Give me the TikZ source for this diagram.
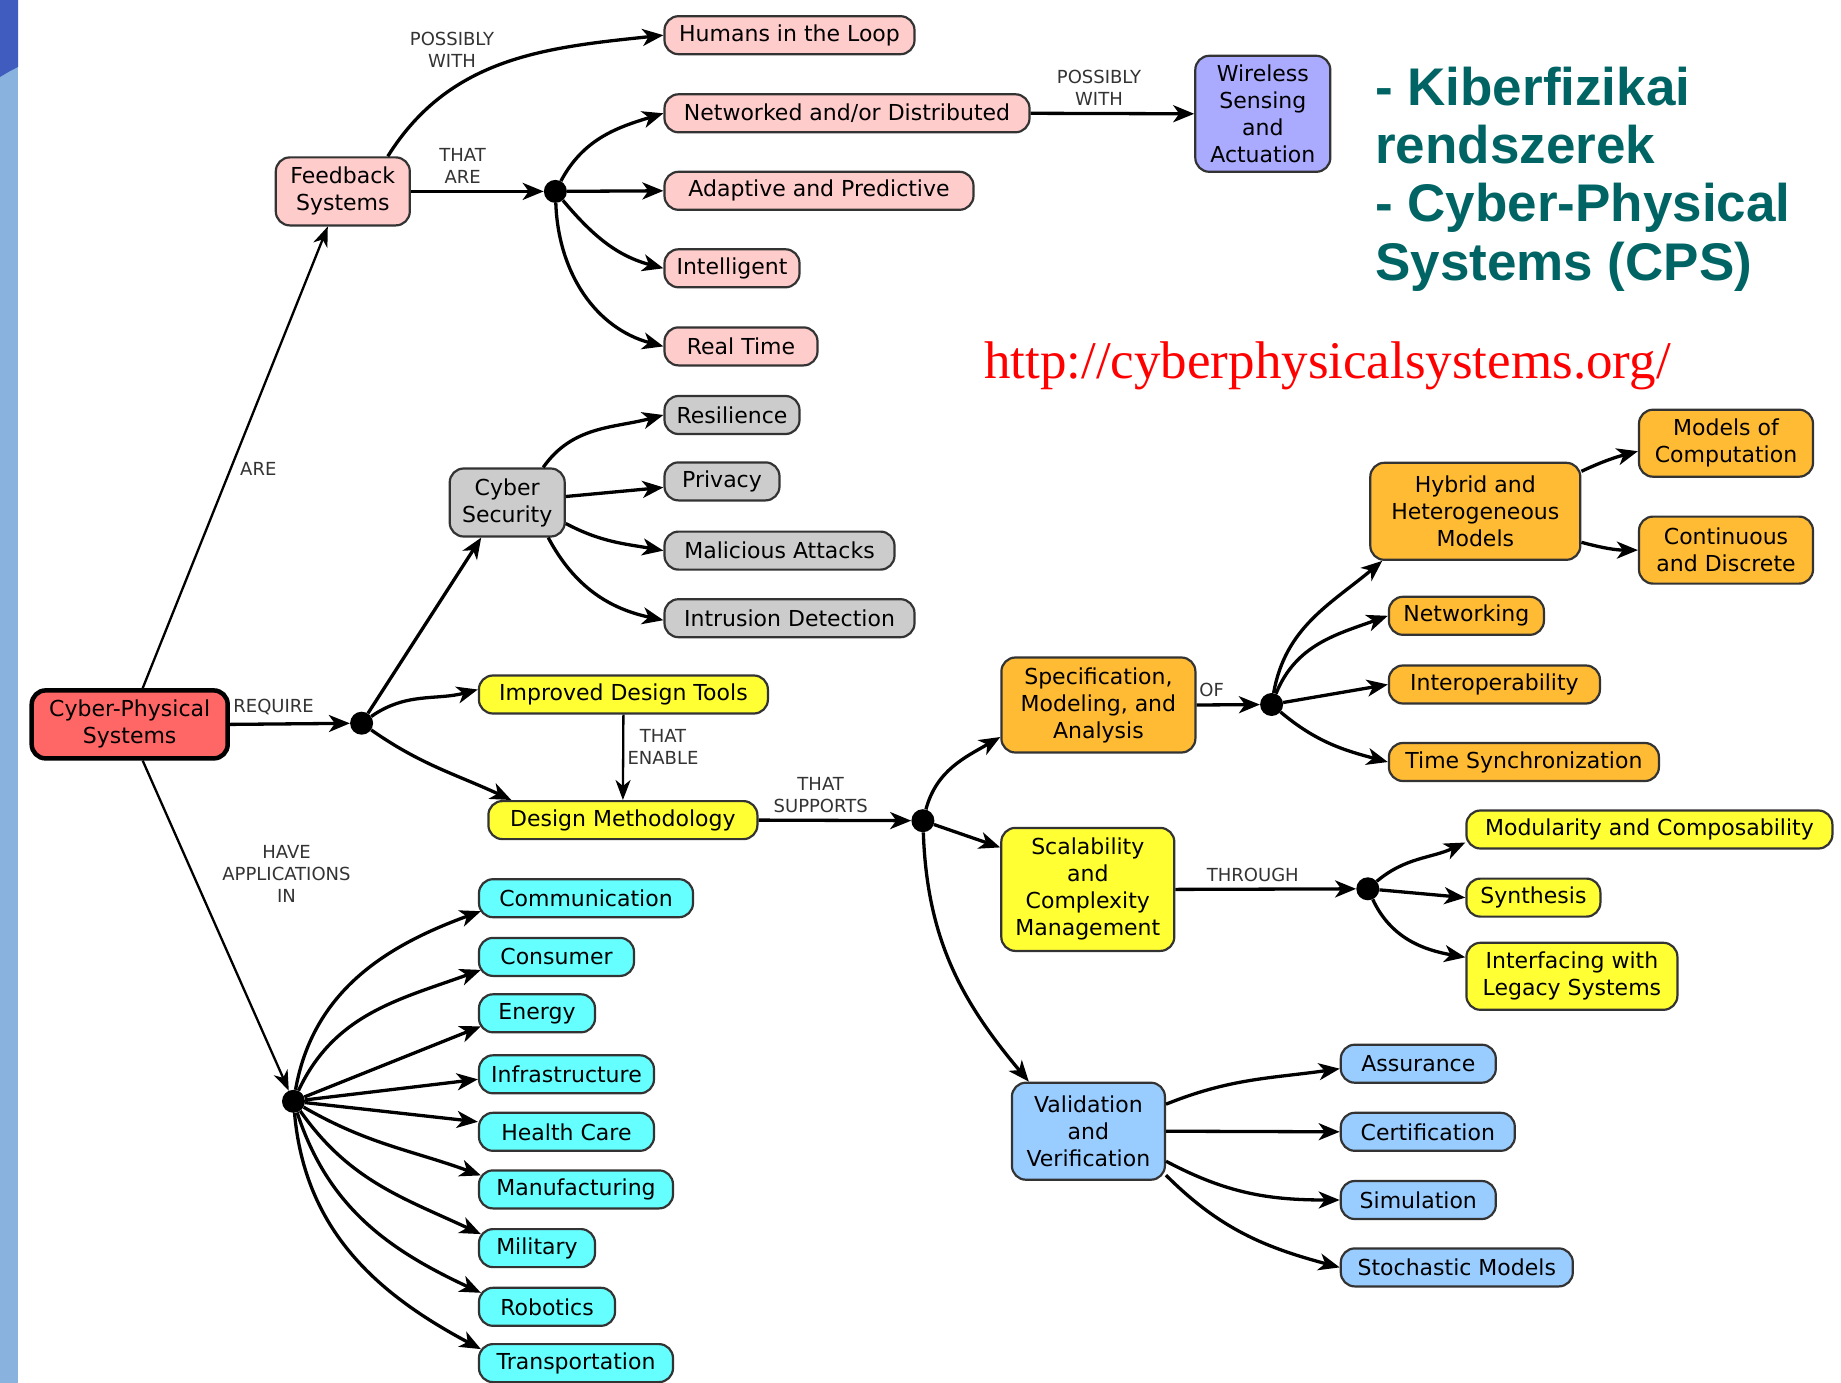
\documentclass[tikz,border=0pt]{standalone}
\usepackage{fontspec}
\setmainfont{DejaVu Sans}
\newfontfamily\ttlfont{Liberation Sans}
\newfontfamily\urlfnt{Liberation Serif}
\usetikzlibrary{arrows.meta}
\definecolor{pinkc}{HTML}{FFCCCC}
\definecolor{grayc}{HTML}{CCCCCC}
\definecolor{cpsc}{HTML}{FF6666}
\definecolor{yellowc}{HTML}{FFFF33}
\definecolor{orangec}{HTML}{FFBB33}
\definecolor{cyanc}{HTML}{66FFFF}
\definecolor{bluec}{HTML}{99CCFF}
\definecolor{lavc}{HTML}{AAAAFF}
\definecolor{bordc}{HTML}{333333}
\definecolor{tealc}{HTML}{006464}
\definecolor{stripc}{HTML}{8AB2DE}
\definecolor{darkb}{HTML}{3F5CBE}
\definecolor{lblc}{HTML}{333333}
\newcommand\myboxfont{\fontsize{22}{27}\selectfont}
\newcommand\mylblfont{\fontsize{18}{22}\selectfont}
\begin{document}
\begin{tikzpicture}[x=1pt,y=1pt,
  cbox/.style={draw=bordc, line width=2.2pt, rounded corners=14pt, font=\myboxfont, align=center, inner xsep=6pt, inner ysep=3pt, text=black},
  pill/.style={cbox, anchor=west, minimum height=38pt},
  jdot/.style={circle, fill=black, inner sep=0pt, minimum size=23pt},
  lbl/.style={font=\mylblfont, text=lblc, align=center, inner sep=0pt},
  arr/.style={line width=3.3pt, -{Stealth[length=21pt,width=17pt,inset=6pt]}},
  thinarr/.style={line width=2.3pt, -{Stealth[length=20pt,width=15pt,inset=6pt]}},
  ttl/.style={anchor=base west, inner sep=0pt, text=tealc, font=\ttlfont\bfseries\fontsize{53}{56}\selectfont}
]
\useasboundingbox (0,-1383) rectangle (1841,0);
\fill[white] (0,-1383) rectangle (1841,0);
\fill[stripc] (0,-1383) rectangle (18,0);
\fill[darkb] (0,0) -- (18,0) -- (18,-67) .. controls (10,-71) .. (0,-77) -- cycle;

% title and url
\node[ttl] (t1) at (1375,-106) {- Kiberfizikai};
\node[ttl] (t2) at (1375,-164) {rendszerek};
\node[ttl] (t3) at (1375,-222) {- Cyber-Physical};
\node[ttl] (t4) at (1375,-280) {Systems (CPS)};
\node[anchor=base west, inner sep=0pt, text=red, font=\urlfnt\fontsize{53}{60}\selectfont] (url) at (984,-378) {http://cyberphysicalsystems.org/};

% pink group
\node[pill, fill=pinkc, minimum width=250pt] (hum) at (663.4,-35.2) {Humans in the Loop};
\node[pill, fill=pinkc, minimum width=365pt] (net) at (663.4,-113.3) {Networked and/or Distributed};
\node[pill, fill=pinkc, minimum width=309pt] (ada) at (663.4,-190.8) {Adaptive and Predictive};
\node[pill, fill=pinkc, minimum width=135pt] (int) at (663.4,-268.3) {Intelligent};
\node[pill, fill=pinkc, minimum width=153pt] (rt) at (663.4,-346.4) {Real Time};
\node[cbox, fill=lavc, minimum width=135pt, minimum height=116pt] (wir) at (1262.8,-113.8) {Wireless\\Sensing\\and\\Actuation};
\node[cbox, fill=pinkc, minimum width=134pt, minimum height=68pt] (fb) at (342.8,-191.4) {Feedback\\Systems};
\node[jdot] (d1) at (555.4,-191.4) {};

% gray group
\node[cbox, fill=grayc, minimum width=115pt, minimum height=68pt] (cs) at (507.2,-502.5) {Cyber\\Security};
\node[pill, fill=grayc, minimum width=135pt] (res) at (663.4,-415) {Resilience};
\node[pill, fill=grayc, minimum width=115pt] (pri) at (663.4,-481.4) {Privacy};
\node[pill, fill=grayc, minimum width=230pt] (mal) at (663.4,-550.6) {Malicious Attacks};
\node[pill, fill=grayc, minimum width=250pt] (intr) at (663.4,-618.2) {Intrusion Detection};

% root
\node[cbox, fill=cpsc, draw=black, line width=4.5pt, minimum width=196pt, minimum height=68pt] (cps) at (129.7,-724.4) {Cyber-Physical\\Systems};
\node[jdot] (d2) at (361.6,-723.2) {};

% yellow design
\node[cbox, fill=yellowc, minimum width=289pt, minimum height=38pt] (idt) at (623.4,-694.5) {Improved Design Tools};
\node[cbox, fill=yellowc, minimum width=269pt, minimum height=38pt] (dm) at (622.9,-820.1) {Design Methodology};
\node[jdot] (d3) at (922.9,-820.7) {};

% orange
\node[cbox, fill=orangec, minimum width=194pt, minimum height=95pt] (spec) at (1098.4,-705) {Specification,\\Modeling, and\\Analysis};
\node[jdot] (d4) at (1271.6,-704.5) {};
\node[cbox, fill=orangec, minimum width=210pt, minimum height=97pt] (hyb) at (1475.3,-511.3) {Hybrid and\\Heterogeneous\\Models};
\node[cbox, fill=orangec, minimum width=174pt, minimum height=67pt] (moc) at (1726,-443.2) {Models of\\Computation};
\node[cbox, fill=orangec, minimum width=174pt, minimum height=67pt] (cad) at (1726,-550.1) {Continuous\\and Discrete};
\node[pill, fill=orangec, minimum width=155pt] (netw) at (1387.8,-615.8) {Networking};
\node[pill, fill=orangec, minimum width=211pt] (iop) at (1387.8,-684.5) {Interoperability};
\node[pill, fill=orangec, minimum width=270pt] (ts) at (1387.8,-762) {Time Synchronization};

% yellow scalability
\node[cbox, fill=yellowc, minimum width=173pt, minimum height=123pt] (scal) at (1087.8,-889.4) {Scalability\\and\\Complexity\\Management};
\node[jdot] (d5) at (1367.8,-888.8) {};
\node[pill, fill=yellowc, minimum width=366pt] (mod) at (1465.3,-829.5) {Modularity and Composability};
\node[pill, fill=yellowc, minimum width=134pt] (syn) at (1465.3,-897.6) {Synthesis};
\node[cbox, anchor=west, fill=yellowc, minimum width=211pt, minimum height=67pt] (ifl) at (1465.3,-976.3) {Interfacing with\\Legacy Systems};

% blue
\node[cbox, fill=bluec, minimum width=153pt, minimum height=97pt] (vv) at (1088.4,-1131.2) {Validation\\and\\Verification};
\node[pill, fill=bluec, minimum width=155pt] (asu) at (1339.7,-1063.7) {Assurance};
\node[pill, fill=bluec, minimum width=174pt] (cer) at (1339.7,-1131.8) {Certification};
\node[pill, fill=bluec, minimum width=155pt] (sim) at (1339.7,-1200) {Simulation};
\node[pill, fill=bluec, minimum width=232pt] (sto) at (1339.7,-1267.4) {Stochastic Models};

% cyan
\node[jdot] (d6) at (293.5,-1101.3) {};
\node[pill, fill=cyanc, minimum width=214pt] (com) at (477.9,-898.2) {Communication};
\node[pill, fill=cyanc, minimum width=155pt] (con) at (477.9,-956.9) {Consumer};
\node[pill, fill=cyanc, minimum width=116pt] (ene) at (477.9,-1013.3) {Energy};
\node[pill, fill=cyanc, minimum width=175pt] (inf) at (477.9,-1074.3) {Infrastructure};
\node[pill, fill=cyanc, minimum width=175pt] (hea) at (477.9,-1131.8) {Health Care};
\node[pill, fill=cyanc, minimum width=194pt] (man) at (477.9,-1189.4) {Manufacturing};
\node[pill, fill=cyanc, minimum width=116pt] (mil) at (477.9,-1248.1) {Military};
\node[pill, fill=cyanc, minimum width=136pt] (rob) at (477.9,-1306.8) {Robotics};
\node[pill, fill=cyanc, minimum width=194pt] (tra) at (477.9,-1363.1) {Transportation};

% labels
\node[lbl] (l1) at (452,-50) {POSSIBLY\\WITH};
\node[lbl] (l2) at (462.6,-165.5) {THAT\\ARE};
\node[lbl] (l3) at (1099,-88) {POSSIBLY\\WITH};
\node[lbl] (l4) at (258.3,-468.5) {ARE};
\node[lbl] (l5) at (273.6,-706.8) {REQUIRE};
\node[lbl] (l6) at (663,-747) {THAT\\ENABLE};
\node[lbl] (l7) at (820.7,-795) {THAT\\SUPPORTS};
\node[lbl] (l8) at (286.5,-874) {HAVE\\APPLICATIONS\\IN};
\node[lbl] (l9) at (1211.7,-690.4) {OF};
\node[lbl] (l10) at (1252.8,-874.7) {THROUGH};

% connectors
\draw[thinarr] ([xshift=13pt]cps.north) -- ([xshift=-15pt]fb.south);
\draw[arr] ([xshift=45pt]fb.north) to[out=58,in=186] (hum.west);
\draw[arr] (fb.east) -- (d1);
\draw[arr] (d1) to[out=62,in=197] (net.west);
\draw[arr] (d1) -- (ada.west);
\draw[arr] (d1) to[out=-50,in=165] (int.west);
\draw[arr] (d1) to[out=-88,in=165] (rt.west);
\draw[arr] (net.east) -- (wir.west);

\draw[arr] (cps.east) -- (d2);
\draw[arr] (d2) -- ([xshift=-26pt]cs.south);
\draw[arr] ([xshift=36pt]cs.north) to[out=55,in=195] (res.west);
\draw[arr] ([yshift=6pt]cs.east) -- ([yshift=-6pt]pri.west);
\draw[arr] ([yshift=-21pt]cs.east) to[out=-28,in=170] (mal.west);
\draw[arr] ([xshift=41pt]cs.south) to[out=-62,in=168] ([yshift=-2pt]intr.west);
\draw[arr] (d2) to[out=35,in=195] ([yshift=5pt]idt.west);
\draw[arr] (d2) to[out=-35,in=155] ([xshift=24pt]dm.north west);
\draw[thinarr] (idt.south) -- (dm.north);
\draw[arr] (dm.east) -- (d3);

\draw[arr] (d3) to[out=75,in=210] ([yshift=-32pt]spec.west);
\draw[arr] (d3) -- ([yshift=42pt]scal.west);
\draw[arr] (d3) to[out=-88,in=130] ([xshift=18pt]vv.north west);
\draw[arr] (spec.east) -- (d4);
\draw[arr] (d4) to[out=80,in=220] ([xshift=13pt]hyb.south west);
\draw[arr] (d4) to[out=68,in=200] (netw.west);
\draw[arr] (d4) -- (iop.west);
\draw[arr] (d4) to[out=-40,in=165] (ts.west);
\draw[arr] ([yshift=40pt]hyb.east) to[out=25,in=195] ([yshift=-8pt]moc.west);
\draw[arr] ([yshift=-31pt]hyb.east) to[out=-15,in=180] (cad.west);

\draw[arr] (scal.east) -- (d5);
\draw[arr] (d5) to[out=40,in=205] ([yshift=-13pt]mod.west);
\draw[arr] (d5) -- (syn.west);
\draw[arr] (d5) to[out=-65,in=170] ([yshift=19pt]ifl.west);

\draw[arr] ([yshift=27pt]vv.east) to[out=22,in=188] ([yshift=-5pt]asu.west);
\draw[arr] (vv.east) -- (cer.west);
\draw[arr] ([yshift=-30pt]vv.east) to[out=-28,in=180] (sim.west);
\draw[arr] ([yshift=-44pt]vv.east) to[out=-45,in=165] (sto.west);

\draw[thinarr] ([xshift=13pt]cps.south) -- (d6);
\draw[arr] (d6) to[out=80,in=200] ([shift={(3pt,-13pt)}]com.west);
\draw[arr] (d6) to[out=65,in=200] ([shift={(3pt,-13pt)}]con.west);
\draw[arr] (d6) -- ([shift={(3pt,-13pt)}]ene.west);
\draw[arr] (d6) -- ([yshift=-5pt]inf.west);
\draw[arr] (d6) -- ([yshift=10pt]hea.west);
\draw[arr] (d6) to[out=-30,in=160] ([shift={(3pt,14pt)}]man.west);
\draw[arr] (d6) to[out=-55,in=155] ([shift={(3pt,14pt)}]mil.west);
\draw[arr] (d6) to[out=-72,in=155] ([shift={(3pt,14pt)}]rob.west);
\draw[arr] (d6) to[out=-85,in=152] ([shift={(3pt,14pt)}]tra.west);
\end{tikzpicture}
\end{document}
